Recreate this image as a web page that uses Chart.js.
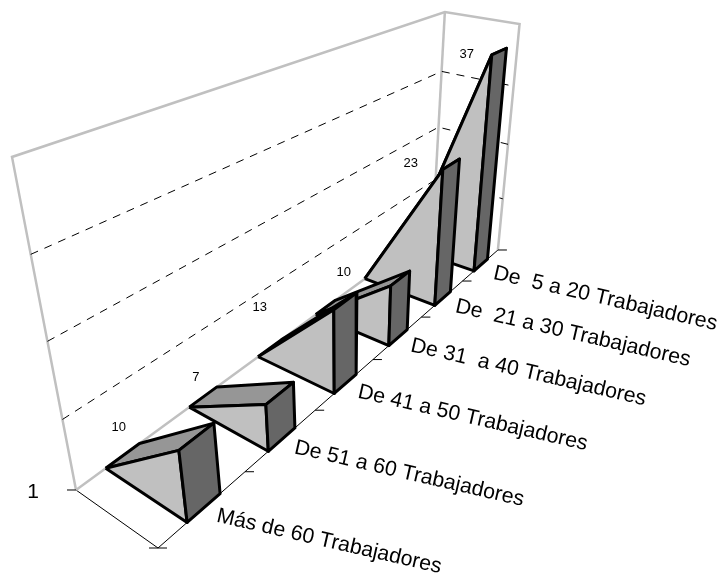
<!DOCTYPE html>
<html>
<head>
<meta charset="utf-8">
<title>Trabajadores</title>
<script src="https://cdn.jsdelivr.net/npm/chart.js@4"></script>
<style>
  html, body { margin: 0; background: #fff; }
  canvas { display: block; }
</style>
</head>
<body>
<canvas id="chart" width="723" height="578"></canvas>
<script>
// nearest category first, as the axis runs into the picture
const categories = [
  "Más de 60 Trabajadores",
  "De 51 a 60 Trabajadores",
  "De 41 a 50 Trabajadores",
  "De 31  a 40 Trabajadores",
  "De  21 a 30 Trabajadores",
  "De  5 a 20 Trabajadores"
];
const values = [10, 7, 13, 10, 23, 37];
const gridValues = [10, 20, 30];
const valueMax = 40;
const seriesName = "1";

// text nudges from the top corner of each wedge, in pixels
const labelNudge = [[-60, -23], [-70, -27], [-74, -2], [-47, -13], [-32, -6], [-25, -1]];

const GRAY = "#c0c0c0";
const barStart = 0.31;
const barEnd = 0.69;

// perspective projection: c = category position, h = value/valueMax, d = depth 0..1
function project(c, h, d) {
  const w = 1 + 0.12 * c - 0.21 * h + 0.0835 * d;
  return {
    x: (158 + 116.4 * c - 71.87 * h - 75.65 * d) / w,
    y: (548 - 19.67 * c - 393.8 * h - 17.1 * d) / w
  };
}

function line(points, color, width, dash) {
  return {
    data: points,
    showLine: true,
    borderColor: color,
    borderWidth: width,
    borderDash: dash || [],
    pointRadius: 0,
    fill: false,
    clip: false
  };
}

function face(points, color) {
  return {
    data: points.concat([points[0]]),
    showLine: true,
    borderColor: "#000",
    borderWidth: 3,
    borderJoinStyle: "round",
    backgroundColor: color,
    pointRadius: 0,
    fill: "shape",
    clip: false
  };
}

const n = categories.length;
const layers = [];

// walls and floor
layers.push(line([project(0, 0, 0), project(0, 0, 1)], "#000", 1));
layers.push(line([project(0, 0, 0), project(n, 0, 0)], "#000", 1));
layers.push(line([project(0, 0, 1), project(n, 0, 1)], GRAY, 2.5));
layers.push(line([project(0, 0, 1), project(0, 1, 1), project(n, 1, 1), project(n, 1, 0), project(n, 0, 0)], GRAY, 2.5));
layers.push(line([project(n, 0, 1), project(n, 1, 1)], GRAY, 2.5));

gridValues.forEach(v => {
  const h = v / valueMax;
  layers.push(line([project(0, h, 1), project(n, h, 1), project(n, h, 0)], "#000", 1, [8, 7]));
});

// axis ticks
for (let i = 0; i <= n; i++) {
  const p = project(i, 0, 0);
  layers.push(line([p, { x: p.x + 9, y: p.y }], "#000", 1));
}
[0, 1].forEach(d => {
  const p = project(0, 0, d);
  layers.push(line([p, { x: p.x - 9, y: p.y }], "#000", 1));
});

// wedges, farthest first so the nearer ones paint over
for (let i = n - 1; i >= 0; i--) {
  const h = values[i] / valueMax;
  const a = i + barStart;
  const b = i + barEnd;
  layers.push(face([project(a, 0, 1), project(b, 0, 1), project(b, h, 0), project(a, h, 0)], "#969696"));
  layers.push(face([project(a, 0, 1), project(a, h, 0), project(a, 0, 0)], GRAY));
  layers.push(face([project(a, h, 0), project(b, h, 0), project(b, 0, 0), project(a, 0, 0)], "#666666"));
}

const textPlugin = {
  id: "chartText",
  afterDraw(chart) {
    const ctx = chart.ctx;
    const sx = chart.scales.x;
    const sy = chart.scales.y;
    ctx.save();
    ctx.fillStyle = "#000";
    ctx.textBaseline = "middle";

    ctx.font = "13px 'Liberation Sans'";
    ctx.textAlign = "center";
    values.forEach((v, i) => {
      const p = project(i + barStart, v / valueMax, 0);
      ctx.fillText(String(v), sx.getPixelForValue(p.x) + labelNudge[i][0], sy.getPixelForValue(p.y) + labelNudge[i][1]);
    });

    ctx.font = "21px 'Liberation Sans'";
    const corner = project(0, 0, 1);
    ctx.fillText(seriesName, sx.getPixelForValue(corner.x) - 43, sy.getPixelForValue(corner.y) + 2);

    ctx.font = "21.3px 'Liberation Sans'";
    ctx.textAlign = "left";
    categories.forEach((name, i) => {
      const p = project(i + 0.5, 0, 0);
      ctx.save();
      ctx.translate(sx.getPixelForValue(p.x) + 13, sy.getPixelForValue(p.y) + 8);
      ctx.rotate(13 * Math.PI / 180);
      ctx.fillText(name, 0, 0);
      ctx.restore();
    });
    ctx.restore();
  }
};

new Chart(document.getElementById("chart").getContext("2d"), {
  type: "scatter",
  // chart.js paints the last dataset first
  data: { datasets: layers.slice().reverse() },
  options: {
    responsive: false,
    animation: false,
    layout: { padding: 0 },
    plugins: { legend: { display: false }, tooltip: { enabled: false } },
    scales: {
      x: { type: "linear", min: 0, max: 723, display: false },
      y: { type: "linear", min: 0, max: 578, reverse: true, display: false }
    }
  },
  plugins: [textPlugin]
});
</script>
</body>
</html>
